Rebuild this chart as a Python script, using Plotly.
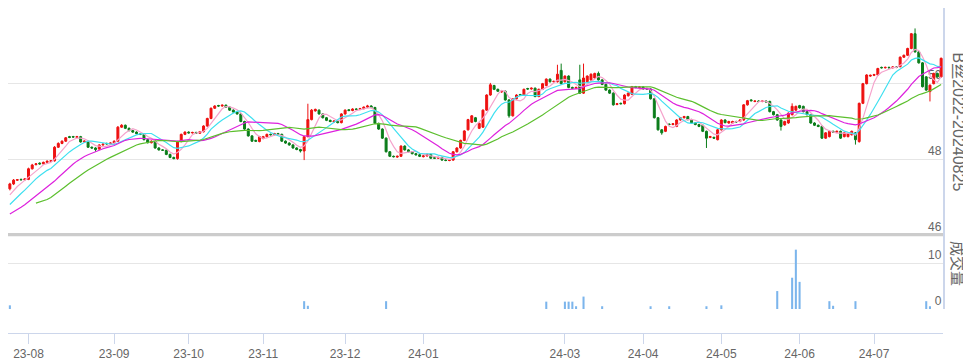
import pandas as pd
import plotly.graph_objects as go

# ---------------- data ----------------
holidays = ["2023-09-29", "2023-10-02", "2023-10-03", "2024-01-01", "2024-02-09",
            "2024-02-12", "2024-02-13", "2024-02-14", "2024-02-15", "2024-04-04",
            "2024-05-01", "2024-05-02"]
days = pd.bdate_range("2023-07-25", "2024-07-25")
dates = [d.strftime("%Y-%m-%d") for d in days if d.strftime("%Y-%m-%d") not in holidays]

# closes before the visible window (only feed the moving averages)
pre_closes = [47.10, 46.95, 46.85, 46.35, 46.25, 46.20, 46.15, 46.20, 46.25, 46.30,
              46.35, 46.45, 46.50, 46.40, 46.50, 46.55, 46.60, 46.70, 46.85, 46.95,
              47.05, 47.10]

opens = [
    47.22, 47.35, 47.45, 47.47, 47.46, 47.47, 47.75, 47.86, 47.90, 47.88,
    47.92, 47.95, 47.96, 48.32, 48.42, 48.48, 48.60, 48.60, 48.58, 48.60,
    48.46, 48.47, 48.32, 48.30, 48.27, 48.38, 48.42, 48.41, 48.43, 48.48,
    48.85, 48.90, 48.82, 48.76, 48.72, 48.67, 48.66, 48.52, 48.44, 48.48,
    48.30, 48.25, 48.24, 48.13, 48.05, 48.02, 48.47, 48.66, 48.72, 48.70,
    48.71, 48.69, 48.73, 48.88, 49.08, 49.35, 49.42, 49.41, 49.43, 49.38,
    49.30, 49.25, 49.20, 49.00, 48.80, 48.62, 48.50, 48.47, 48.55, 48.60,
    48.66, 48.65, 48.68, 48.66, 48.48, 48.43, 48.38, 48.30, 48.26, 48.22,
    48.60, 49.05, 49.28, 49.30, 49.20, 49.10, 49.03, 48.99, 49.00, 48.97,
    49.20, 49.31, 49.29, 49.33, 49.32, 49.34, 49.38, 49.41, 49.37, 48.95,
    48.80, 48.56, 48.20, 48.08, 48.06, 48.08, 48.35, 48.25, 48.20, 48.15,
    48.12, 48.07, 48.09, 48.13, 48.04, 48.03, 48.05, 47.98, 47.97, 47.98,
    48.20, 48.30, 48.50, 48.78, 48.98, 49.10, 48.82, 48.85, 49.30, 49.70,
    49.95, 49.85, 49.78, 49.80, 49.57, 49.15, 49.60, 49.71, 49.70, 49.87,
    49.86, 49.88, 49.66, 49.85, 49.95, 50.12, 50.05, 50.05, 50.35, 50.05,
    50.20, 49.90, 49.88, 50.10, 49.75, 50.05, 50.10, 50.15, 50.27, 50.10,
    49.98, 49.83, 49.75, 49.45, 49.48, 49.47, 49.68, 49.72, 49.92, 49.90,
    49.91, 49.87, 49.86, 49.60, 49.10, 48.78, 48.74, 48.93, 48.92, 48.87,
    49.04, 49.10, 49.13, 49.05, 48.96, 48.92, 48.90, 48.74, 48.58, 48.58,
    48.52, 48.78, 49.04, 48.96, 48.96, 49.00, 49.00, 49.04, 49.44, 49.57,
    49.53, 49.54, 49.53, 49.54, 49.53, 49.26, 49.18, 49.04, 48.91, 48.96,
    49.18, 49.30, 49.42, 49.40, 49.26, 49.18, 48.96, 48.90, 48.87, 48.56,
    48.60, 48.74, 48.72, 48.74, 48.60, 48.60, 48.65, 48.70, 48.47, 49.48,
    50.00, 50.20, 50.22, 50.23, 50.43, 50.42, 50.43, 50.42, 50.44, 50.45,
    50.70, 50.75, 50.93, 51.32, 50.84, 50.55, 50.18, 49.79, 50.00, 50.27,
    50.18]

closes = [
    47.35, 47.45, 47.46, 47.46, 47.48, 47.75, 47.85, 47.88, 47.88, 47.92,
    47.95, 47.96, 48.32, 48.42, 48.48, 48.57, 48.58, 48.59, 48.60, 48.46,
    48.48, 48.32, 48.30, 48.26, 48.38, 48.40, 48.41, 48.43, 48.48, 48.85,
    48.90, 48.82, 48.76, 48.72, 48.68, 48.66, 48.52, 48.44, 48.48, 48.30,
    48.25, 48.24, 48.13, 48.05, 48.02, 48.47, 48.66, 48.72, 48.70, 48.71,
    48.69, 48.73, 48.88, 49.08, 49.35, 49.41, 49.41, 49.43, 49.38, 49.30,
    49.25, 49.20, 49.00, 48.80, 48.62, 48.48, 48.48, 48.60, 48.60, 48.66,
    48.65, 48.68, 48.66, 48.48, 48.43, 48.38, 48.30, 48.26, 48.22, 48.60,
    49.05, 49.30, 49.32, 49.20, 49.10, 49.03, 49.00, 49.01, 48.97, 49.20,
    49.30, 49.29, 49.33, 49.32, 49.34, 49.38, 49.41, 49.37, 48.95, 48.80,
    48.56, 48.20, 48.08, 48.07, 48.08, 48.35, 48.25, 48.20, 48.15, 48.12,
    48.08, 48.09, 48.13, 48.03, 48.03, 48.05, 47.98, 47.97, 47.98, 48.20,
    48.30, 48.50, 48.75, 49.05, 49.15, 49.00, 48.95, 49.30, 49.70, 49.97,
    49.85, 49.80, 49.80, 49.57, 49.15, 49.60, 49.70, 49.70, 49.85, 49.86,
    49.88, 49.66, 49.85, 50.00, 50.12, 50.05, 50.06, 50.25, 50.00, 50.20,
    49.90, 49.88, 49.90, 49.75, 50.15, 50.20, 50.25, 50.27, 50.10, 49.98,
    49.83, 49.75, 49.44, 49.47, 49.47, 49.70, 49.75, 49.92, 49.90, 49.91,
    49.86, 49.86, 49.60, 49.10, 48.78, 48.70, 48.87, 48.92, 48.94, 49.04,
    49.10, 49.13, 49.05, 48.96, 48.92, 48.87, 48.74, 48.56, 48.60, 48.56,
    48.78, 49.04, 48.97, 49.00, 49.00, 48.99, 49.04, 49.44, 49.55, 49.55,
    49.54, 49.53, 49.54, 49.52, 49.26, 49.18, 49.04, 48.87, 49.00, 49.22,
    49.40, 49.40, 49.36, 49.26, 49.18, 48.96, 48.90, 48.87, 48.56, 48.70,
    48.74, 48.72, 48.74, 48.56, 48.70, 48.68, 48.74, 48.52, 49.48, 50.00,
    50.23, 50.22, 50.24, 50.40, 50.42, 50.43, 50.42, 50.44, 50.43, 50.70,
    50.75, 50.93, 51.32, 50.84, 50.55, 49.92, 49.83, 49.96, 50.27, 50.18,
    50.67]

highs = [
    47.38, 47.48, 47.48, 47.49, 47.50, 47.78, 47.88, 47.90, 47.92, 47.94,
    47.97, 47.98, 48.35, 48.45, 48.50, 48.59, 48.62, 48.62, 48.62, 48.62,
    48.50, 48.49, 48.34, 48.32, 48.40, 48.42, 48.44, 48.45, 48.50, 48.88,
    48.93, 48.92, 48.84, 48.78, 48.74, 48.69, 48.68, 48.54, 48.50, 48.50,
    48.32, 48.27, 48.26, 48.15, 48.07, 48.49, 48.68, 48.74, 48.74, 48.73,
    48.73, 48.75, 48.90, 49.10, 49.37, 49.43, 49.44, 49.45, 49.45, 49.40,
    49.32, 49.27, 49.22, 49.02, 48.82, 48.64, 48.52, 48.62, 48.62, 48.68,
    48.68, 48.70, 48.70, 48.68, 48.50, 48.45, 48.40, 48.32, 48.28, 48.62,
    49.47, 49.33, 49.34, 49.32, 49.22, 49.12, 49.05, 49.03, 49.02, 49.22,
    49.32, 49.33, 49.35, 49.35, 49.36, 49.40, 49.44, 49.43, 49.39, 48.97,
    48.82, 48.58, 48.22, 48.10, 48.10, 48.37, 48.37, 48.27, 48.22, 48.17,
    48.14, 48.11, 48.15, 48.15, 48.06, 48.07, 48.07, 48.00, 48.00, 48.22,
    48.32, 48.52, 48.77, 49.07, 49.17, 49.12, 48.97, 49.32, 49.72, 50.02,
    49.97, 49.87, 49.82, 49.82, 49.59, 49.62, 49.72, 49.73, 49.87, 49.89,
    49.90, 49.90, 49.87, 50.02, 50.14, 50.14, 50.08, 50.50, 50.53, 50.22,
    50.22, 49.92, 49.92, 50.50, 50.53, 50.22, 50.27, 50.29, 50.32, 50.12,
    50.00, 49.85, 49.77, 49.49, 49.50, 49.72, 49.77, 49.94, 49.94, 49.93,
    49.93, 49.89, 49.88, 49.62, 49.12, 48.80, 48.89, 48.95, 48.96, 49.06,
    49.12, 49.15, 49.15, 49.07, 48.98, 48.94, 48.92, 48.76, 48.62, 48.60,
    48.80, 49.06, 49.06, 49.02, 49.02, 49.02, 49.06, 49.46, 49.57, 49.59,
    49.56, 49.56, 49.56, 49.56, 49.55, 49.28, 49.20, 49.06, 49.02, 49.24,
    49.48, 49.42, 49.44, 49.42, 49.28, 49.20, 48.98, 48.92, 48.89, 48.72,
    48.76, 48.76, 48.76, 48.76, 48.72, 48.70, 48.76, 48.72, 49.50, 50.02,
    50.25, 50.24, 50.26, 50.42, 50.45, 50.45, 50.45, 50.46, 50.46, 50.72,
    50.77, 50.95, 51.34, 51.46, 50.86, 50.57, 50.20, 49.98, 50.29, 50.29,
    50.69]

lows = [
    47.18, 47.32, 47.43, 47.44, 47.44, 47.45, 47.73, 47.84, 47.86, 47.86,
    47.90, 47.93, 47.94, 48.30, 48.40, 48.46, 48.56, 48.57, 48.56, 48.44,
    48.44, 48.30, 48.28, 48.20, 48.25, 48.36, 48.39, 48.39, 48.41, 48.46,
    48.83, 48.80, 48.74, 48.70, 48.66, 48.64, 48.50, 48.42, 48.42, 48.28,
    48.23, 48.22, 48.11, 48.03, 48.00, 47.99, 48.45, 48.64, 48.68, 48.68,
    48.67, 48.67, 48.71, 48.86, 49.06, 49.33, 49.39, 49.39, 49.36, 49.28,
    49.23, 49.18, 48.98, 48.78, 48.60, 48.46, 48.46, 48.45, 48.53, 48.58,
    48.63, 48.63, 48.64, 48.46, 48.41, 48.36, 48.28, 48.24, 48.18, 47.98,
    48.58, 49.03, 49.26, 49.18, 49.08, 49.01, 48.98, 48.97, 48.95, 48.95,
    49.18, 49.27, 49.27, 49.30, 49.30, 49.32, 49.36, 49.35, 48.93, 48.78,
    48.54, 48.18, 48.06, 48.05, 48.04, 48.06, 48.23, 48.18, 48.13, 48.10,
    48.06, 48.05, 48.07, 48.01, 48.01, 48.01, 47.96, 47.95, 47.95, 47.96,
    48.18, 48.28, 48.48, 48.76, 48.96, 48.98, 48.80, 48.83, 49.28, 49.68,
    49.83, 49.78, 49.76, 49.55, 49.10, 49.13, 49.58, 49.68, 49.68, 49.84,
    49.84, 49.64, 49.64, 49.83, 49.93, 50.03, 50.03, 50.03, 49.98, 50.03,
    49.88, 49.86, 49.86, 49.73, 49.73, 50.03, 50.08, 50.13, 50.08, 49.96,
    49.81, 49.73, 49.42, 49.43, 49.45, 49.45, 49.66, 49.70, 49.88, 49.88,
    49.84, 49.84, 49.58, 49.08, 48.76, 48.65, 48.72, 48.90, 48.90, 48.85,
    49.02, 49.08, 49.03, 48.94, 48.90, 48.85, 48.72, 48.30, 48.56, 48.54,
    48.50, 48.76, 48.95, 48.94, 48.94, 48.97, 48.98, 49.02, 49.42, 49.53,
    49.51, 49.51, 49.51, 49.50, 49.24, 49.16, 49.02, 48.76, 48.89, 48.94,
    49.16, 49.28, 49.34, 49.24, 49.16, 48.94, 48.88, 48.85, 48.54, 48.54,
    48.58, 48.70, 48.70, 48.54, 48.58, 48.58, 48.63, 48.39, 48.44, 49.46,
    49.98, 50.18, 50.20, 50.21, 50.40, 50.40, 50.40, 50.40, 50.41, 50.43,
    50.68, 50.73, 50.91, 50.82, 50.53, 49.90, 49.81, 49.53, 49.98, 50.16,
    50.16]

volumes = [
    0.8, 0, 0, 0, 0, 0, 0, 0, 0, 0,
    0, 0, 0, 0, 0, 0, 0, 0, 0, 0,
    0, 0, 0, 0, 0, 0, 0, 0, 0, 0,
    0, 0, 0, 0, 0, 0, 0, 0, 0, 0,
    0, 0, 0, 0, 0, 0, 0, 0, 0, 0,
    0, 0, 0, 0, 0, 0, 0, 0, 0, 0,
    0, 0, 0, 0, 0, 0, 0, 0, 0, 0,
    0, 0, 0, 0, 0, 0, 0, 0, 0, 1.7,
    0.7, 0, 0, 0, 0, 0, 0, 0, 0, 0,
    0, 0, 0, 0, 0, 0, 0, 0, 0, 0,
    0, 1.7, 0, 0, 0, 0, 0, 0, 0, 0,
    0, 0, 0, 0, 0, 0, 0, 0, 0, 0,
    0, 0, 0, 0, 0, 0, 0, 0, 0, 0,
    0, 0, 0, 0, 0, 0, 0, 0, 0, 0,
    0, 0, 0, 0, 1.6, 0, 0, 0, 0, 1.6,
    1.6, 1.6, 0.6, 0, 2.7, 0, 0, 0, 0, 0.6,
    0, 0, 0, 0, 0, 0, 0, 0, 0, 0,
    0, 0, 0.6, 0, 0, 0, 0, 0.6, 0, 0,
    0, 0, 0, 0, 0, 0, 0, 0.6, 0, 0,
    0, 0.8, 0, 0, 0, 0, 0, 0, 0, 0,
    0, 0, 0, 0, 0, 0, 3.9, 0, 0, 0,
    6.8, 12.9, 5.9, 0, 0, 0, 0, 0, 0, 0,
    1.7, 0.7, 0, 0, 0, 0, 0, 1.7, 0, 0,
    0, 0, 0, 0, 0, 0, 0, 0, 0, 0,
    0, 0, 0, 0, 0, 0, 1.7, 0.6, 0, 0,
    0]

tick_dates = ["2023-08-01", "2023-09-01", "2023-10-04", "2023-11-01", "2023-12-01",
              "2024-01-02", "2024-03-01", "2024-04-01", "2024-05-03", "2024-06-03",
              "2024-07-01"]
tick_labels = ["23-08", "23-09", "23-10", "23-11", "23-12", "24-01", "24-03",
               "24-04", "24-05", "24-06", "24-07"]

ma_periods = [5, 10, 20, 30]
ma_colors = ["#f5a3cc", "#3fe0f0", "#dd22dd", "#5cbf2e"]

price_title = "B丝2022-20240825"
volume_title = "成交量"

# ---------------- figure ----------------
AXIS_LINE = "#ccd6eb"
GRID = "#e6e6e6"
LABEL = "#666666"
FONT = "Liberation Sans, Noto Sans CJK SC, sans-serif"

all_closes = pd.Series(pre_closes + closes)
n_pre = len(pre_closes)

fig = go.Figure()

for p, col in zip(ma_periods, ma_colors):
    ma = all_closes.rolling(p).mean().iloc[n_pre:].tolist()
    fig.add_trace(go.Scatter(x=dates, y=ma, mode="lines",
                             line=dict(color=col, width=1.2),
                             xaxis="x", yaxis="y", hoverinfo="skip"))

fig.add_trace(go.Candlestick(
    x=dates, open=opens, high=highs, low=lows, close=closes,
    increasing=dict(line=dict(color="#ee1111", width=1), fillcolor="#ee1111"),
    decreasing=dict(line=dict(color="#0b7d1a", width=1), fillcolor="#0b7d1a"),
    whiskerwidth=0, xaxis="x", yaxis="y"))

fig.add_trace(go.Bar(x=dates, y=volumes, marker=dict(color="#7cb5ec", line=dict(width=0)),
                     xaxis="x2", yaxis="y2"))

# the page body has an 8px margin: the figure starts at page (8, 8)
OFF = 8
W, H = 971 - OFF, 364 - OFF
ml, mr, mt, mb = 0, 28, 0, 31
ph = H - mt - mb
pw = W - ml - mr

def fy(page_y):
    return (H - mb - (page_y - OFF)) / ph

def fx(page_x):
    return ((page_x - OFF) - ml) / pw

Y_LO, Y_HI = 45.97, 52.0
px_per_unit = (235 - OFF) / (Y_HI - 46.0)
main_dom = [fy(235 + (46.0 - Y_LO) * px_per_unit), 1.0]
vol_dom = [fy(309), fy(217)]

fig.update_layout(
    width=W, height=H,
    margin=dict(l=ml, r=mr, t=mt, b=mb, pad=0),
    paper_bgcolor="white", plot_bgcolor="rgba(0,0,0,0)",
    showlegend=False, hovermode=False,
    boxgap=0.25, bargap=0.45,
    font=dict(family=FONT, size=12, color=LABEL),
    xaxis=dict(domain=[0, 1], type="category", anchor="y",
               range=[-0.5, len(dates) - 0.5],
               showticklabels=False, showgrid=False, showline=False,
               zeroline=False, ticks="", rangeslider=dict(visible=False)),
    yaxis=dict(domain=main_dom, range=[Y_LO, Y_HI], side="right", anchor="x",
               tickvals=[46, 48, 50, 52], ticktext=["46", "48", "50", ""],
               ticklabelposition="inside top", ticks="",
               showgrid=True, gridcolor=GRID, gridwidth=1,
               showline=True, linecolor=AXIS_LINE, linewidth=2,
               zeroline=False, layer="below traces",
               tickfont=dict(size=12, color=LABEL, family=FONT)),
    xaxis2=dict(type="category", matches="x", anchor="free", position=0,
                range=[-0.5, len(dates) - 0.5],
                tickvals=tick_dates, ticktext=tick_labels,
                ticks="outside", ticklen=10, tickcolor=AXIS_LINE, tickwidth=1,
                showline=True, linecolor=AXIS_LINE, linewidth=1,
                showgrid=False, zeroline=False,
                tickfont=dict(size=12, color=LABEL, family=FONT)),
    yaxis2=dict(domain=vol_dom, range=[0, 20], side="right", anchor="x2",
                tickvals=[0, 10, 20], ticktext=["0", "10", ""],
                ticklabelposition="inside top", ticks="",
                showgrid=True, gridcolor=GRID, gridwidth=1,
                showline=True, linecolor=AXIS_LINE, linewidth=2,
                zeroline=False,
                tickfont=dict(size=12, color=LABEL, family=FONT)),
    shapes=[dict(type="line", xref="x domain", yref="y", x0=0, x1=1, y0=46, y1=46,
                 line=dict(color="#cccccc", width=4), layer="above")],
    annotations=[
        dict(text=price_title, textangle=90, xref="paper", yref="paper",
             x=fx(958), y=(fy(235) + 1.0) / 2,
             xanchor="center", yanchor="middle", showarrow=False,
             font=dict(size=16, color=LABEL, family=FONT)),
        dict(text=volume_title, textangle=90, xref="paper", yref="paper",
             x=fx(958), y=(vol_dom[0] + vol_dom[1]) / 2,
             xanchor="center", yanchor="middle", showarrow=False,
             font=dict(size=15, color=LABEL, family=FONT)),
    ],
)

fig.write_html("out.html")
